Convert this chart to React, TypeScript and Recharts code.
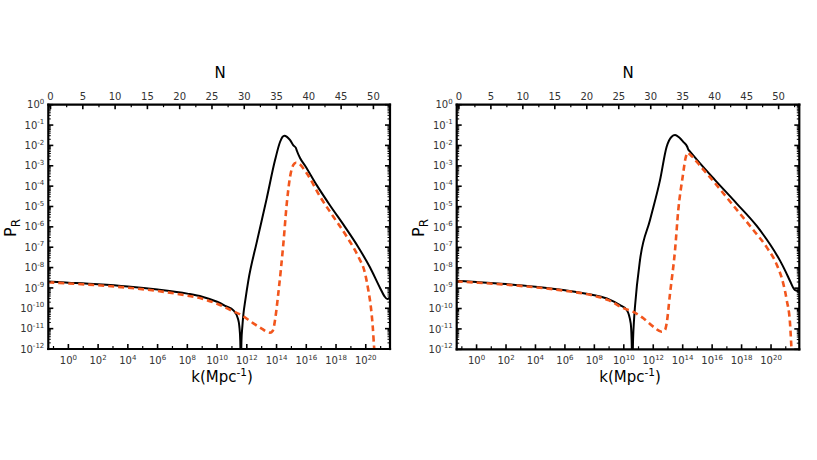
import React from "react";
import { LineChart, Line, XAxis, YAxis } from "recharts";

const FONT = "DejaVu Sans";
const LN10 = Math.log(10);
const N_ZERO_LOGK = -1.2; // log10 k where N = 0

// left panel: log10 k and log10 P_R
const leftBlackLogK = [-1.35, 0, 2, 4, 6, 8, 9, 10, 10.6, 11.1, 11.4, 11.5, 11.56, 11.6, 11.64, 11.7, 11.77, 11.9, 12.1, 12.67, 13.34, 13.9, 14.24, 14.4, 14.53, 14.7, 14.9, 15.13, 15.3, 15.36, 15.58, 15.92, 16.7, 17.6, 18.6, 19.5, 20.29, 20.96, 21.25, 21.45, 21.63];
const leftBlackLogP = [-8.69, -8.74, -8.82, -8.93, -9.08, -9.28, -9.43, -9.68, -9.9, -10.1, -10.5, -10.9, -11.6, -13, -11.6, -10.9, -10.3, -9.6, -8.65, -6.75, -4.6, -2.72, -1.82, -1.58, -1.52, -1.58, -1.73, -2.0, -2.12, -2.25, -2.62, -3.0, -3.95, -4.95, -6.0, -7.0, -8.0, -9.0, -9.4, -9.55, -9.45];

const leftRedLogK = [-1.35, 0, 2, 4, 6, 8, 9, 10, 11.1, 11.55, 12.44, 13.0, 13.56, 13.75, 13.9, 14.12, 14.46, 14.69, 14.91, 15.13, 15.3, 15.47, 16.03, 16.93, 17.82, 18.72, 19.5, 19.95, 20.17, 20.34, 20.47, 20.56, 20.63];
const leftRedLogP = [-8.72, -8.78, -8.87, -8.99, -9.15, -9.38, -9.53, -9.78, -10.15, -10.3, -10.74, -11.0, -11.2, -11.1, -10.57, -9.26, -6.81, -4.84, -3.54, -2.96, -2.85, -2.88, -3.37, -4.52, -5.5, -6.48, -7.47, -8.28, -9.1, -9.92, -10.9, -11.9, -12.5];

// right panel
const rightBlackLogK = [-1.35, 0, 2, 4, 6, 8, 9, 9.74, 10.2, 10.47, 10.53, 10.58, 10.63, 10.7, 10.76, 11.1, 11.78, 12.46, 12.91, 13.25, 13.48, 13.75, 14.04, 14.3, 14.38, 14.5, 15.18, 16.2, 17.67, 19.03, 19.93, 20.61, 21.0, 21.29, 21.63, 21.92];
const rightBlackLogP = [-8.64, -8.7, -8.8, -8.93, -9.1, -9.35, -9.55, -9.83, -10.07, -10.73, -11.5, -13, -11.5, -10.5, -9.9, -7.62, -5.66, -3.7, -2.06, -1.57, -1.49, -1.6, -1.82, -2.05, -2.2, -2.3, -2.88, -3.7, -4.85, -5.95, -6.85, -7.65, -8.2, -8.65, -9.1, -9.15];

const rightRedLogK = [-1.35, 0, 2, 4, 6, 8, 9, 9.97, 10.65, 11.33, 12.0, 12.57, 12.8, 12.91, 13.14, 13.48, 13.7, 14.0, 14.2, 14.35, 14.5, 14.72, 15.18, 16.08, 17.44, 18.8, 19.71, 20.39, 20.84, 21.07, 21.29, 21.41];
const rightRedLogP = [-8.67, -8.73, -8.83, -8.96, -9.13, -9.38, -9.6, -9.98, -10.16, -10.48, -10.89, -11.14, -11.05, -10.73, -9.26, -7.13, -5.17, -3.53, -2.6, -2.35, -2.45, -2.6, -3.0, -3.75, -4.95, -6.15, -7.0, -7.85, -8.8, -9.6, -10.73, -12.3];

const yMajor = [-12, -11, -10, -9, -8, -7, -6, -5, -4, -3, -2, -1, 0];
const minorMult = [2, 3, 4, 5, 6, 7, 8, 9];
const yTicks = [
  ...yMajor,
  ...yMajor.slice(0, -1).flatMap((d) => minorMult.map((m) => d + Math.log10(m))),
];
const kDecades = [-1, 0, 1, 2, 3, 4, 5, 6, 7, 8, 9, 10, 11, 12, 13, 14, 15, 16, 17, 18, 19, 20, 21];
const nTicks = [0, 2.5, 5, 7.5, 10, 12.5, 15, 17.5, 20, 22.5, 25, 27.5, 30, 32.5, 35, 37.5, 40, 42.5, 45, 47.5, 50, 52.5];

const toPoints = (ks: number[], ps: number[]) => ks.map((k, i) => ({ k, p: ps[i] }));
const isInt = (v: number) => Math.abs(v - Math.round(v)) < 1e-6;
const sup = (v: number) => String(Math.round(v));

function LeftTick(props: any) {
  const { x, y, payload } = props;
  const v = payload.value;
  const major = isInt(v);
  return (
    <g>
      <line x1={x} x2={x + (major ? 5 : 2.5)} y1={y} y2={y} stroke="#000" strokeWidth={major ? 1.6 : 1} />
      {major && (
        <text x={x - 4} y={y + 3.6} textAnchor="end" fontSize={10} fill="#333" fontFamily={FONT}>
          10<tspan dy={-4.5} fontSize={7}>{sup(v)}</tspan>
        </text>
      )}
    </g>
  );
}

function RightTick(props: any) {
  const { x, y, payload } = props;
  const major = isInt(payload.value);
  return <line x1={x} x2={x - (major ? 5 : 2.5)} y1={y} y2={y} stroke="#000" strokeWidth={major ? 1.6 : 1} />;
}

function BottomTick(props: any) {
  const { x, y, payload } = props;
  const v = payload.value;
  const major = Math.round(v) % 2 === 0;
  return (
    <g>
      <line x1={x} x2={x} y1={y} y2={y - (major ? 5 : 3)} stroke="#000" strokeWidth={major ? 1.6 : 1.2} />
      {major && (
        <text x={x} y={y + 15} textAnchor="middle" fontSize={10} fill="#333" fontFamily={FONT}>
          10<tspan dy={-4.5} fontSize={7}>{sup(v)}</tspan>
        </text>
      )}
    </g>
  );
}

function TopTick(props: any) {
  const { x, y, payload } = props;
  const v = payload.value;
  const major = isInt(v / 5);
  return (
    <g>
      <line x1={x} x2={x} y1={y} y2={y + (major ? 4.5 : 2.5)} stroke="#000" strokeWidth={major ? 1.6 : 1.2} />
      {major && (
        <text x={x} y={y - 4.7} textAnchor="middle" fontSize={10} fill="#333" fontFamily={FONT}>
          {v}
        </text>
      )}
    </g>
  );
}

const frame = { stroke: "#000", strokeWidth: 2.2, strokeLinecap: "square" as const };

function Panel(props: {
  left: number;
  width: number;
  kMin: number;
  kMax: number;
  marginLeft: number;
  rightWidth: number;
  marginBottom: number;
  black: { k: number; p: number }[];
  red: { k: number; p: number }[];
}) {
  const { left, width, kMin, kMax, marginLeft, rightWidth, marginBottom, black, red } = props;
  const nMin = (kMin - N_ZERO_LOGK) * LN10;
  const nMax = (kMax - N_ZERO_LOGK) * LN10;
  const kTicks = kDecades.filter((d) => d > kMin && d < kMax);
  const nt = nTicks.filter((n) => n > nMin && n < nMax);
  // invisible helper series so the top N axis gets its own scale
  const nSpan = [
    { n: nMin, p: -20 },
    { n: nMax, p: -20 },
  ];
  return (
    <div style={{ position: "absolute", left, top: 0 }}>
      <LineChart
        width={width}
        height={460}
        margin={{ top: 74.7, left: marginLeft, right: 0, bottom: marginBottom }}
      >
        <XAxis
          xAxisId={0}
          type="number"
          dataKey="k"
          domain={[kMin, kMax]}
          allowDataOverflow
          ticks={kTicks}
          interval={0}
          height={30}
          tickSize={0}
          tickMargin={0}
          tickLine={false}
          axisLine={frame}
          tick={<BottomTick />}
        />
        <XAxis
          xAxisId="N"
          orientation="top"
          type="number"
          dataKey="n"
          domain={[nMin, nMax]}
          allowDataOverflow
          ticks={nt}
          interval={0}
          height={30}
          tickSize={0}
          tickMargin={0}
          tickLine={false}
          axisLine={frame}
          tick={<TopTick />}
        />
        <YAxis
          yAxisId={0}
          type="number"
          domain={[-12, 0]}
          allowDataOverflow
          ticks={yTicks}
          interval={0}
          width={48}
          tickSize={0}
          tickMargin={0}
          tickLine={false}
          axisLine={frame}
          tick={<LeftTick />}
        />
        <YAxis
          yAxisId="right"
          orientation="right"
          type="number"
          domain={[-12, 0]}
          allowDataOverflow
          ticks={yTicks}
          interval={0}
          width={rightWidth}
          tickSize={0}
          tickMargin={0}
          tickLine={false}
          axisLine={frame}
          tick={<RightTick />}
        />
        <Line
          xAxisId="N"
          data={nSpan}
          dataKey="p"
          stroke="none"
          dot={false}
          activeDot={false}
          isAnimationActive={false}
        />
        <Line
          data={black}
          dataKey="p"
          type="monotone"
          stroke="#000"
          strokeWidth={2}
          dot={false}
          activeDot={false}
          isAnimationActive={false}
        />
        <Line
          data={red}
          dataKey="p"
          type="monotone"
          stroke="#f2561d"
          strokeWidth={2.6}
          strokeDasharray="6 4"
          dot={false}
          activeDot={false}
          isAnimationActive={false}
        />
      </LineChart>
    </div>
  );
}

function Titles(props: { cx: number; yLabelX: number }) {
  const { cx, yLabelX } = props;
  return (
    <g fontFamily={FONT} fill="#000">
      <text x={cx} y={78} textAnchor="middle" fontSize={15}>N</text>
      <text x={cx + 2} y={382} textAnchor="middle" fontSize={15}>
        k(Mpc<tspan dy={-6} fontSize={10.5}>-1</tspan><tspan dy={6}>)</tspan>
      </text>
      <text x={yLabelX} y={228} textAnchor="middle" fontSize={16} transform={`rotate(-90 ${yLabelX} 228)`}>
        P<tspan dy={4} fontSize={12}>R</tspan>
      </text>
    </g>
  );
}

export default function App() {
  return (
    <div style={{ position: "absolute", left: 0, top: 0, width: 817, height: 460, background: "#fff" }}>
      <Panel
        left={0}
        width={408}
        kMin={-1.35}
        kMax={21.63}
        marginLeft={0.3}
        rightWidth={18}
        marginBottom={81}
        black={toPoints(leftBlackLogK, leftBlackLogP)}
        red={toPoints(leftRedLogK, leftRedLogP)}
      />
      <Panel
        left={408}
        width={409}
        kMin={-1.35}
        kMax={21.92}
        marginLeft={0.7}
        rightWidth={17.7}
        marginBottom={80.7}
        black={toPoints(rightBlackLogK, rightBlackLogP)}
        red={toPoints(rightRedLogK, rightRedLogP)}
      />
      <svg width={817} height={460} style={{ position: "absolute", left: 0, top: 0, pointerEvents: "none" }}>
        <Titles cx={220} yLabelX={16} />
        <Titles cx={628} yLabelX={424} />
      </svg>
    </div>
  );
}
